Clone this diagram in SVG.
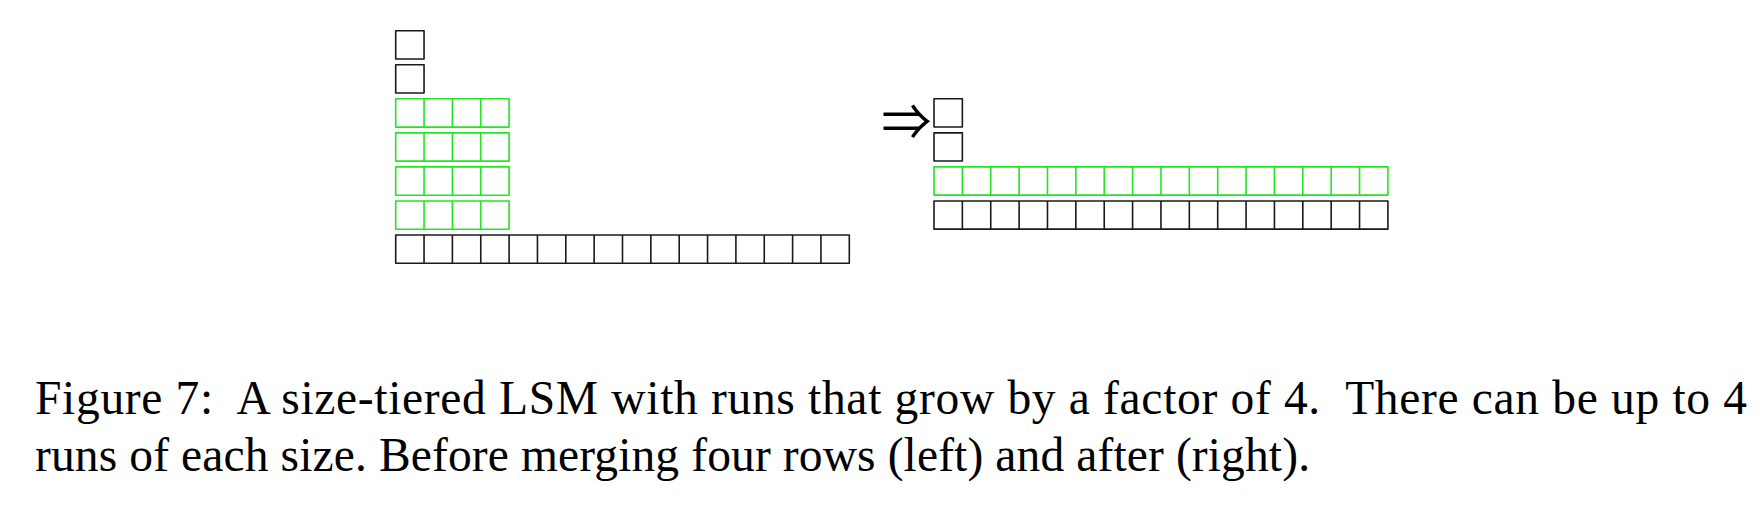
<svg xmlns="http://www.w3.org/2000/svg" width="1760" height="514" viewBox="0 0 1760 514">
<style>
.blk{fill:none;stroke:#1a1a1a;stroke-width:1.6;stroke-linejoin:round}
.grn{fill:none;stroke:#22e622;stroke-width:1.6;stroke-linejoin:round}
.cap{font-family:"Liberation Serif","Times New Roman",serif;font-size:47.5px;fill:#000}
.arr{font-family:"Noto Sans CJK JP","DejaVu Sans",sans-serif;font-size:50px;font-weight:normal;fill:#000}
</style>
<rect width="1760" height="514" fill="#fff"/>
<g id="left">
<g id="L-single-1"><rect class="blk" x="395.7" y="30.7" width="28.35" height="28.3"/></g>
<g id="L-single-2"><rect class="blk" x="395.7" y="64.75" width="28.35" height="28.3"/></g>
<g id="L-run4-1"><rect class="grn" x="395.7" y="98.8" width="113.4" height="28.3"/><path class="grn" d="M424.05 98.8v28.3M452.4 98.8v28.3M480.75 98.8v28.3"/></g>
<g id="L-run4-2"><rect class="grn" x="395.7" y="132.85" width="113.4" height="28.3"/><path class="grn" d="M424.05 132.85v28.3M452.4 132.85v28.3M480.75 132.85v28.3"/></g>
<g id="L-run4-3"><rect class="grn" x="395.7" y="166.9" width="113.4" height="28.3"/><path class="grn" d="M424.05 166.9v28.3M452.4 166.9v28.3M480.75 166.9v28.3"/></g>
<g id="L-run4-4"><rect class="grn" x="395.7" y="200.95" width="113.4" height="28.3"/><path class="grn" d="M424.05 200.95v28.3M452.4 200.95v28.3M480.75 200.95v28.3"/></g>
<g id="L-run16"><rect class="blk" x="395.7" y="235" width="453.6" height="28.3"/><path class="blk" d="M424.05 235v28.3M452.4 235v28.3M480.75 235v28.3M509.1 235v28.3M537.45 235v28.3M565.8 235v28.3M594.15 235v28.3M622.5 235v28.3M650.85 235v28.3M679.2 235v28.3M707.55 235v28.3M735.9 235v28.3M764.25 235v28.3M792.6 235v28.3M820.95 235v28.3"/></g>
</g>
<g id="connectors"><text class="arr" x="906.5" y="140" text-anchor="middle">⇒</text></g>
<g id="right">
<g id="R-single-1"><rect class="blk" x="934" y="98.8" width="28.37" height="28.2"/></g>
<g id="R-single-2"><rect class="blk" x="934" y="132.85" width="28.37" height="28.2"/></g>
<g id="R-run16-green"><rect class="grn" x="934" y="166.9" width="453.92" height="28.2"/><path class="grn" d="M962.37 166.9v28.2M990.74 166.9v28.2M1019.11 166.9v28.2M1047.48 166.9v28.2M1075.85 166.9v28.2M1104.22 166.9v28.2M1132.59 166.9v28.2M1160.96 166.9v28.2M1189.33 166.9v28.2M1217.7 166.9v28.2M1246.07 166.9v28.2M1274.44 166.9v28.2M1302.81 166.9v28.2M1331.18 166.9v28.2M1359.55 166.9v28.2"/></g>
<g id="R-run16"><rect class="blk" x="934" y="200.95" width="453.92" height="28.2"/><path class="blk" d="M962.37 200.95v28.2M990.74 200.95v28.2M1019.11 200.95v28.2M1047.48 200.95v28.2M1075.85 200.95v28.2M1104.22 200.95v28.2M1132.59 200.95v28.2M1160.96 200.95v28.2M1189.33 200.95v28.2M1217.7 200.95v28.2M1246.07 200.95v28.2M1274.44 200.95v28.2M1302.81 200.95v28.2M1331.18 200.95v28.2M1359.55 200.95v28.2"/></g>
</g>
<g id="caption">
<text class="cap" x="35" y="414" textLength="1712" lengthAdjust="spacing">Figure 7:&#160; A size-tiered LSM with runs that grow by a factor of 4.&#160; There can be up to 4</text>
<text class="cap" x="35" y="471" textLength="1275" lengthAdjust="spacing">runs of each size. Before merging four rows (left) and after (right).</text>
</g>
</svg>
